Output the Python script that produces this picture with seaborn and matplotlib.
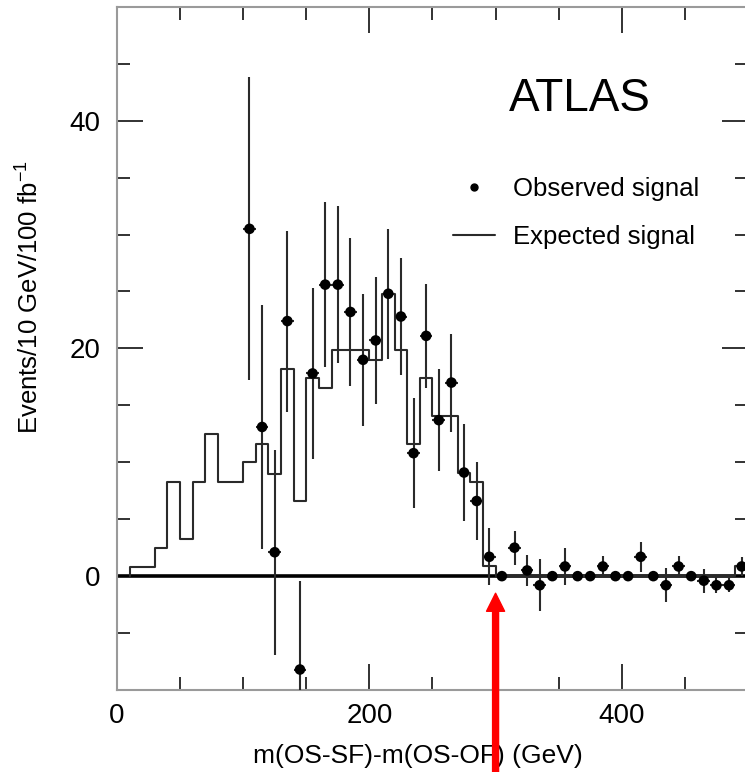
import numpy as np
import pandas as pd
import matplotlib
matplotlib.use("Agg")
import matplotlib.pyplot as plt
from matplotlib.lines import Line2D
from matplotlib.legend_handler import HandlerLine2D
from matplotlib.ticker import MultipleLocator, FixedLocator
import seaborn as sns

# ---------------- data ----------------
obs_x = [105, 115, 125, 135, 145, 155, 165, 175, 185, 195,
         205, 215, 225, 235, 245, 255, 265, 275, 285, 295,
         305, 315, 325, 335, 345, 355, 365, 375, 385, 395,
         405, 415, 425, 435, 445, 455, 465, 475, 485, 495]
obs_y = [30.5, 13.1, 2.1, 22.4, -8.2, 17.8, 25.6, 25.6, 23.2, 19.0,
         20.7, 24.8, 22.8, 10.8, 21.1, 13.7, 17.0, 9.1, 6.6, 1.7,
         0.0, 2.5, 0.5, -0.8, 0.0, 0.85, 0.0, 0.0, 0.85, 0.0,
         0.0, 1.7, 0.0, -0.8, 0.85, 0.0, -0.4, -0.8, -0.8, 0.85]
obs_err = [13.3, 10.7, 9.0, 7.95, 7.8, 7.5, 7.25, 6.9, 6.5, 5.8,
           5.6, 5.7, 5.1, 4.85, 4.55, 4.5, 4.3, 4.3, 3.4, 2.5,
           0.0, 1.5, 1.4, 2.3, 0.0, 1.6, 0.0, 0.0, 0.9, 0.0,
           0.0, 1.3, 0.0, 1.5, 0.9, 0.0, 1.05, 0.7, 0.6, 0.8]
bin_halfwidth = 5

exp_edges = list(range(10, 501, 10))  # 10 ... 500
exp_vals = [0.8, 0.8, 2.5, 8.3, 3.3, 8.3, 12.45, 8.3, 8.3, 10.0,
            11.6, 9.0, 18.2, 6.6, 17.4, 16.5, 19.85, 19.85, 19.85, 19.0,
            24.8, 19.85, 11.6, 17.4, 14.06, 14.06, 9.1, 8.3, 0.85,
            0, 0, 0, 0, 0, 0, 0, 0, 0, 0, 0, 0, 0, 0, 0, 0, 0, 0, 0,
            0.85]

arrow_x = 300
arrow_tip_y = -1.5

x_major = [0, 200, 400]
y_major = [0, 20, 40]
x_lim = (0, 500)
y_lim = (-10, 50)

xlabel = "m(OS-SF)-m(OS-OF) (GeV)"
ylabel = "Events/10 GeV/100 fb$^{-1}$"
legend_obs = "Observed signal"
legend_exp = "Expected signal"
title_text = "ATLAS"

# ---------------- style ----------------
sns.set_theme(style="ticks")
plt.rcParams["font.family"] = ["Liberation Sans", "DejaVu Sans"]
plt.rcParams["mathtext.fontset"] = "custom"
plt.rcParams["mathtext.rm"] = "Liberation Sans"
plt.rcParams["mathtext.it"] = "Liberation Sans"
plt.rcParams["text.color"] = "black"
plt.rcParams["axes.labelcolor"] = "black"

fig = plt.figure(figsize=(7.45, 7.72), dpi=100)
ax = fig.add_axes([0.157, 0.1062, 0.847, 0.885])

# expected histogram as step line
step_x = [exp_edges[0]] + exp_edges
step_y = [0] + exp_vals + [exp_vals[-1]]
df_exp = pd.DataFrame({"x": step_x, "y": step_y})
sns.lineplot(data=df_exp, x="x", y="y", drawstyle="steps-post", sort=False,
             estimator=None, color="#2a2a2a", lw=1.5, ax=ax, zorder=3)

# zero line
ax.axhline(0, color="black", lw=2.6, zorder=2)

# observed points with error bars
ax.errorbar(obs_x, obs_y, yerr=obs_err, xerr=bin_halfwidth, fmt="none",
            ecolor="#2a2a2a", elinewidth=1.5, capsize=0, zorder=4)
df_obs = pd.DataFrame({"x": obs_x, "y": obs_y})
sns.scatterplot(data=df_obs, x="x", y="y", color="black", s=58,
                edgecolor="none", ax=ax, zorder=5)

ax.set_xlim(*x_lim)
ax.set_ylim(*y_lim)

# ticks
ax.xaxis.set_major_locator(FixedLocator(x_major))
ax.xaxis.set_minor_locator(MultipleLocator(50))
ax.yaxis.set_major_locator(FixedLocator(y_major))
ax.yaxis.set_minor_locator(MultipleLocator(5))
ax.tick_params(which="both", direction="in", top=True, right=True,
               colors="#222222", labelcolor="black", labelsize=20, width=1.3)
ax.tick_params(which="major", length=19)
ax.tick_params(which="minor", length=9.5)
ax.tick_params(axis="y", pad=12)
ax.tick_params(axis="x", pad=9)
for sp in ax.spines.values():
    sp.set_color("#9a9a9a")
    sp.set_linewidth(1.5)

ax.set_xlabel(xlabel, fontsize=19)
ax.set_ylabel(ylabel, fontsize=18.5)
ax.xaxis.set_label_coords(0.477, -0.079)
ax.yaxis.set_label_coords(-0.117, 0.575)

# ATLAS label
ax.text(0.734, 0.865, title_text, transform=ax.transAxes, fontsize=33,
        ha="center", va="center", color="black")


# legend with dot placed at right end of handle
class RightMarkerHandler(HandlerLine2D):
    def get_xdata(self, legend, xdescent, ydescent, width, height, fontsize):
        xdata = [-xdescent, -xdescent + width]
        return xdata, [-xdescent + 0.93 * width]


h_obs = Line2D([], [], ls="none", marker="o", color="black", markersize=5)
h_exp = Line2D([], [], color="#2a2a2a", lw=1.5)
leg = ax.legend([h_obs, h_exp], [legend_obs, legend_exp],
                handler_map={h_obs: RightMarkerHandler(numpoints=1)},
                loc="upper left", bbox_to_anchor=(0.5325, 0.751),
                frameon=False, fontsize=18.5, borderpad=0, borderaxespad=0,
                handlelength=1.65, handletextpad=0.7, labelspacing=0.92)

# red arrow from bottom of figure up to the cut position
ax.annotate("", xy=(arrow_x, arrow_tip_y), xycoords="data",
            xytext=(arrow_x, 0.0), textcoords=("data", "figure fraction"),
            arrowprops=dict(width=4.3, headwidth=13, headlength=13,
                            color="red", shrink=0),
            annotation_clip=False, zorder=10)

fig.savefig("out.png", dpi=100)
